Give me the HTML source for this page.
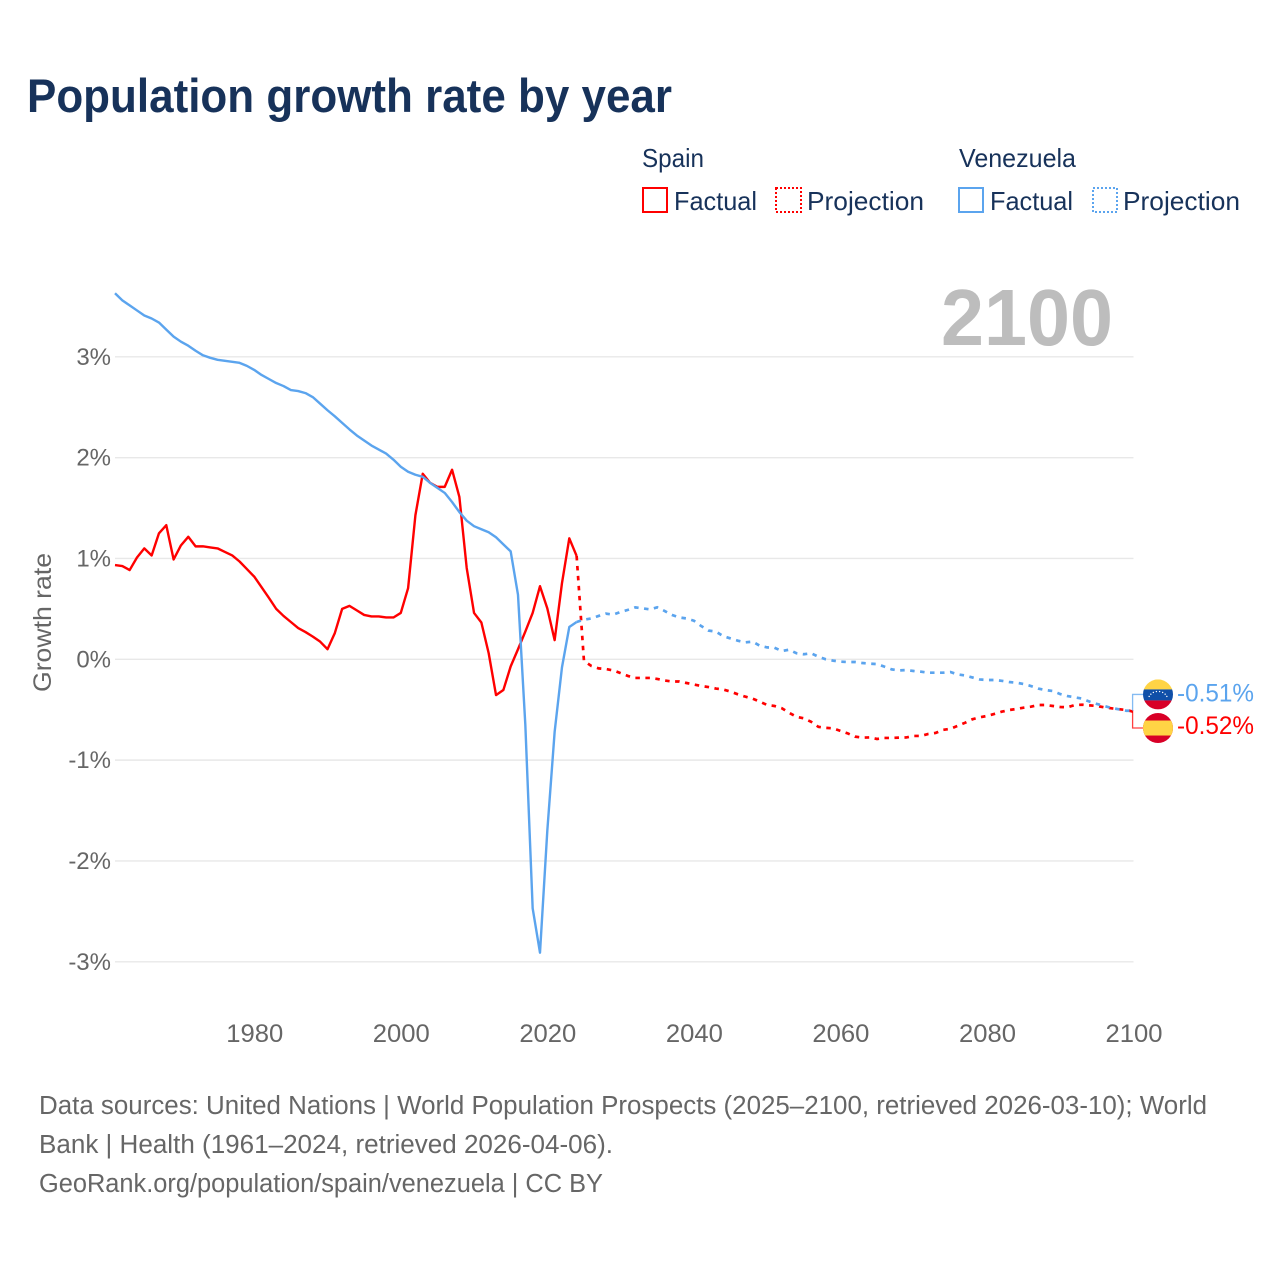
<!DOCTYPE html>
<html lang="en">
<head>
<meta charset="utf-8">
<title>Population growth rate by year</title>
<style>
html,body{margin:0;padding:0;background:#fff;width:1280px;height:1280px;overflow:hidden}
svg{display:block;font-family:"Liberation Sans",sans-serif}
</style>
</head>
<body>
<svg id="chart" xmlns="http://www.w3.org/2000/svg" width="1280" height="1280" viewBox="0 0 1280 1280">
  <rect x="0" y="0" width="1280" height="1280" fill="#fff"/>
  <text x="27" y="112" font-size="47" font-weight="700" fill="#17325a" textLength="645" lengthAdjust="spacingAndGlyphs">Population growth rate by year</text>

  <g font-size="26" fill="#17325a">
    <text x="642" y="167" textLength="62" lengthAdjust="spacingAndGlyphs">Spain</text>
    <text x="959" y="167" textLength="117" lengthAdjust="spacingAndGlyphs">Venezuela</text>
    <g>
      <rect x="643" y="188" width="24" height="24" fill="none" stroke="#ff0000" stroke-width="2"/>
      <text x="674" y="210" textLength="83" lengthAdjust="spacingAndGlyphs">Factual</text>
    </g>
    <g>
      <rect x="776" y="188" width="25" height="24" fill="none" stroke="#ff0000" stroke-width="2" stroke-dasharray="2 2"/>
      <text x="807" y="210" textLength="117" lengthAdjust="spacingAndGlyphs">Projection</text>
    </g>
    <g>
      <rect x="959" y="188" width="24" height="24" fill="none" stroke="#5ba4ee" stroke-width="2"/>
      <text x="990" y="210" textLength="83" lengthAdjust="spacingAndGlyphs">Factual</text>
    </g>
    <g>
      <rect x="1093" y="188" width="24" height="24" fill="none" stroke="#5ba4ee" stroke-width="2" stroke-dasharray="2 2"/>
      <text x="1123" y="210" textLength="117" lengthAdjust="spacingAndGlyphs">Projection</text>
    </g>
  </g>

  <g id="grid"></g>
  <text x="941" y="345" font-size="80" font-weight="700" fill="#bdbdbd" textLength="172" lengthAdjust="spacingAndGlyphs">2100</text>
  <g id="yticks" font-size="24" fill="#666"></g>
  <g id="xticks" font-size="25" fill="#666"></g>
  <text transform="translate(51,692) rotate(-90)" font-size="25" fill="#666" textLength="139" lengthAdjust="spacingAndGlyphs">Growth rate</text>

  <g id="series"></g>

  <defs>
    <clipPath id="clip-ve"><circle id="clip-ve-c" cx="1158" cy="694" r="15"/></clipPath>
    <clipPath id="clip-es"><circle id="clip-es-c" cx="1158" cy="728" r="15"/></clipPath>
  </defs>
  <g id="end-labels">
    <path id="conn-ve" fill="none" stroke="#5ba4ee" stroke-opacity=".75" stroke-width="1.3"/>
    <path id="conn-es" fill="none" stroke="#ff0000" stroke-opacity=".75" stroke-width="1.3"/>
    <g id="flag-ve" clip-path="url(#clip-ve)"></g>
    <g id="flag-es" clip-path="url(#clip-es)"></g>
    <text id="label-ve" x="1177" font-size="25" fill="#5ba4ee" textLength="77" lengthAdjust="spacingAndGlyphs"></text>
    <text id="label-es" x="1177" font-size="25" fill="#ff0000" textLength="77" lengthAdjust="spacingAndGlyphs"></text>
  </g>

  <g font-size="25.5" fill="#666">
    <text x="39" y="1114" textLength="1168" lengthAdjust="spacingAndGlyphs">Data sources: United Nations | World Population Prospects (2025–2100, retrieved 2026-03-10); World</text>
    <text x="39" y="1153" textLength="574" lengthAdjust="spacingAndGlyphs">Bank | Health (1961–2024, retrieved 2026-04-06).</text>
    <text x="39" y="1192" textLength="564" lengthAdjust="spacingAndGlyphs">GeoRank.org/population/spain/venezuela | CC BY</text>
  </g>
</svg>

<script>
var firstYear = 1961;
var lastFactualYear = 2024;
var yTickValues = [3, 2, 1, 0, -1, -2, -3];
var xTickValues = [1980, 2000, 2020, 2040, 2060, 2080, 2100];

var spainValues = [
0.935,0.925,0.885,1.01,1.10,1.03,1.25,1.33,0.99,1.13,
1.215,1.12,1.12,1.11,1.10,1.065,1.03,0.97,0.895,0.82,
0.715,0.61,0.50,0.43,0.37,0.31,0.27,0.225,0.175,0.10,
0.26,0.50,0.53,0.485,0.44,0.425,0.425,0.415,0.415,0.46,
0.705,1.43,1.84,1.75,1.71,1.71,1.88,1.61,0.905,0.46,
0.365,0.06,-0.355,-0.305,-0.07,0.10,0.275,0.46,0.725,0.505,
0.19,0.755,1.20,1.025,
-0.015,-0.066,-0.09,-0.097,-0.11,-0.137,-0.165,-0.185,-0.185,-0.185,
-0.195,-0.21,-0.22,-0.22,-0.235,-0.25,-0.265,-0.275,-0.29,-0.30,
-0.32,-0.347,-0.37,-0.39,-0.42,-0.453,-0.463,-0.485,-0.53,-0.57,
-0.585,-0.62,-0.67,-0.68,-0.685,-0.71,-0.735,-0.767,-0.777,-0.775,
-0.79,-0.78,-0.78,-0.777,-0.775,-0.76,-0.76,-0.74,-0.73,-0.70,
-0.69,-0.66,-0.63,-0.595,-0.575,-0.562,-0.542,-0.52,-0.503,-0.493,
-0.48,-0.47,-0.453,-0.453,-0.463,-0.473,-0.476,-0.453,-0.45,-0.457,
-0.463,-0.476,-0.486,-0.495,-0.503,-0.52
];

var venezuelaValues = [
3.63,3.56,3.51,3.46,3.41,3.38,3.34,3.27,3.20,3.15,
3.11,3.06,3.015,2.99,2.97,2.96,2.95,2.94,2.91,2.87,
2.82,2.78,2.74,2.71,2.67,2.66,2.64,2.60,2.535,2.47,
2.41,2.345,2.28,2.22,2.17,2.12,2.08,2.04,1.98,1.91,
1.86,1.83,1.81,1.75,1.70,1.65,1.56,1.46,1.375,1.32,
1.29,1.26,1.21,1.14,1.07,0.64,-0.65,-2.47,-2.91,-1.70,
-0.72,-0.08,0.32,0.37,
0.393,0.405,0.43,0.453,0.443,0.47,0.49,0.515,0.505,0.495,
0.515,0.48,0.44,0.415,0.405,0.383,0.33,0.285,0.275,0.23,
0.207,0.185,0.168,0.175,0.135,0.118,0.115,0.082,0.095,0.06,
0.05,0.06,0.026,0.0,-0.013,-0.023,-0.027,-0.027,-0.037,-0.043,
-0.047,-0.073,-0.10,-0.11,-0.107,-0.116,-0.123,-0.133,-0.133,-0.133,
-0.126,-0.15,-0.16,-0.18,-0.20,-0.205,-0.205,-0.213,-0.225,-0.232,
-0.245,-0.265,-0.29,-0.305,-0.315,-0.345,-0.365,-0.377,-0.39,-0.42,
-0.443,-0.463,-0.483,-0.496,-0.51,-0.51
];

var spainColor = '#ff0000';
var venezuelaColor = '#5ba4ee';
var SVGNS = 'http://www.w3.org/2000/svg';

function xScale(year) { return 115 + (year - 1961) * (1133.5 - 115) / (2100 - 1961); }
function yScale(v) { return 659.3 - v * 100.83; }
function mk(tag, attrs, parent) {
  var el = document.createElementNS(SVGNS, tag);
  for (var k in attrs) { el.setAttribute(k, attrs[k]); }
  parent.appendChild(el);
  return el;
}

var gridG = document.getElementById('grid');
var yTickG = document.getElementById('yticks');
yTickValues.forEach(function (v) {
  var line = mk('line', {x1: 115, x2: 1133.5, y1: yScale(v), y2: yScale(v), stroke: '#e8e8e8', 'stroke-width': 1.4}, gridG);
  
  
  var t = mk('text', {x: 111, y: yScale(v) + 8, 'text-anchor': 'end'}, yTickG);
  
  
  t.textContent = v + '%';
});

var xTickG = document.getElementById('xticks');
xTickValues.forEach(function (yr) {
  var t = mk('text', {x: xScale(yr) + 0.5, y: 1042, 'text-anchor': 'middle', textLength: 57, lengthAdjust: 'spacingAndGlyphs'}, xTickG);
  
  
  t.textContent = yr;
});

function pathFor(values, from, to) {
  var d = '';
  for (var i = from; i <= to; i++) {
    d += (i === from ? 'M' : 'L') + xScale(firstYear + i).toFixed(2) + ' ' + yScale(values[i]).toFixed(2);
  }
  return d;
}

var seriesG = document.getElementById('series');
var splitIndex = lastFactualYear - firstYear;

var esFact = mk('path', {d: pathFor(spainValues, 0, splitIndex), fill: 'none', stroke: spainColor, 'stroke-width': 2.4, 'stroke-linejoin': 'round'}, seriesG);



var veFact = mk('path', {d: pathFor(venezuelaValues, 0, splitIndex), fill: 'none', stroke: venezuelaColor, 'stroke-width': 2.4, 'stroke-linejoin': 'round'}, seriesG);



var esProj = mk('path', {d: pathFor(spainValues, splitIndex, spainValues.length - 1), fill: 'none', stroke: spainColor, 'stroke-width': 2.7, 'stroke-dasharray': '4.5 5.5'}, seriesG);



var veProj = mk('path', {d: pathFor(venezuelaValues, splitIndex, venezuelaValues.length - 1), fill: 'none', stroke: venezuelaColor, 'stroke-width': 2.7, 'stroke-dasharray': '4.5 5.5'}, seriesG);



/* End labels: two flags stacked around the mean of the series end points */
var veEnd = venezuelaValues[venezuelaValues.length - 1];
var esEnd = spainValues[spainValues.length - 1];
var yVe = yScale(veEnd), yEs = yScale(esEnd);
var mid = (yVe + yEs) / 2;
var topIsVe = veEnd >= esEnd;
var veCy = mid + (topIsVe ? -16.8 : 16.8);
var esCy = mid + (topIsVe ? 16.8 : -16.8);

document.getElementById('conn-ve').setAttribute('d', 'M1143 ' + veCy + 'H1132.6V' + yVe);
document.getElementById('conn-es').setAttribute('d', 'M1143 ' + esCy + 'H1132.6V' + yEs);
document.getElementById('clip-ve-c').setAttribute('cy', veCy);
document.getElementById('clip-es-c').setAttribute('cy', esCy);

var labelVe = document.getElementById('label-ve');
labelVe.setAttribute('y', veCy + 7);
labelVe.textContent = veEnd.toFixed(2) + '%';
var labelEs = document.getElementById('label-es');
labelEs.setAttribute('y', esCy + 6);
labelEs.textContent = esEnd.toFixed(2) + '%';

var flagVe = document.getElementById('flag-ve');
mk('rect', {x: 1143, y: veCy - 15, width: 30, height: 10, fill: '#ffd445'}, flagVe);
mk('rect', {x: 1143, y: veCy - 5, width: 30, height: 11, fill: '#0f4fa8'}, flagVe);
mk('rect', {x: 1143, y: veCy + 6, width: 30, height: 9, fill: '#d80027'}, flagVe);
for (var s = 0; s < 8; s++) {
  var ang = Math.PI * (0.12 + 0.76 * s / 7);
  mk('circle', {cx: 1158 - Math.cos(ang) * 9.5, cy: veCy + 5 - Math.sin(ang) * 8, r: 0.7, fill: '#fff'}, flagVe);
}
var flagEs = document.getElementById('flag-es');
mk('rect', {x: 1143, y: esCy - 15, width: 30, height: 30, fill: '#d80027'}, flagEs);
mk('rect', {x: 1143, y: esCy - 7.5, width: 30, height: 15, fill: '#ffd445'}, flagEs);
</script>
</body>
</html>
